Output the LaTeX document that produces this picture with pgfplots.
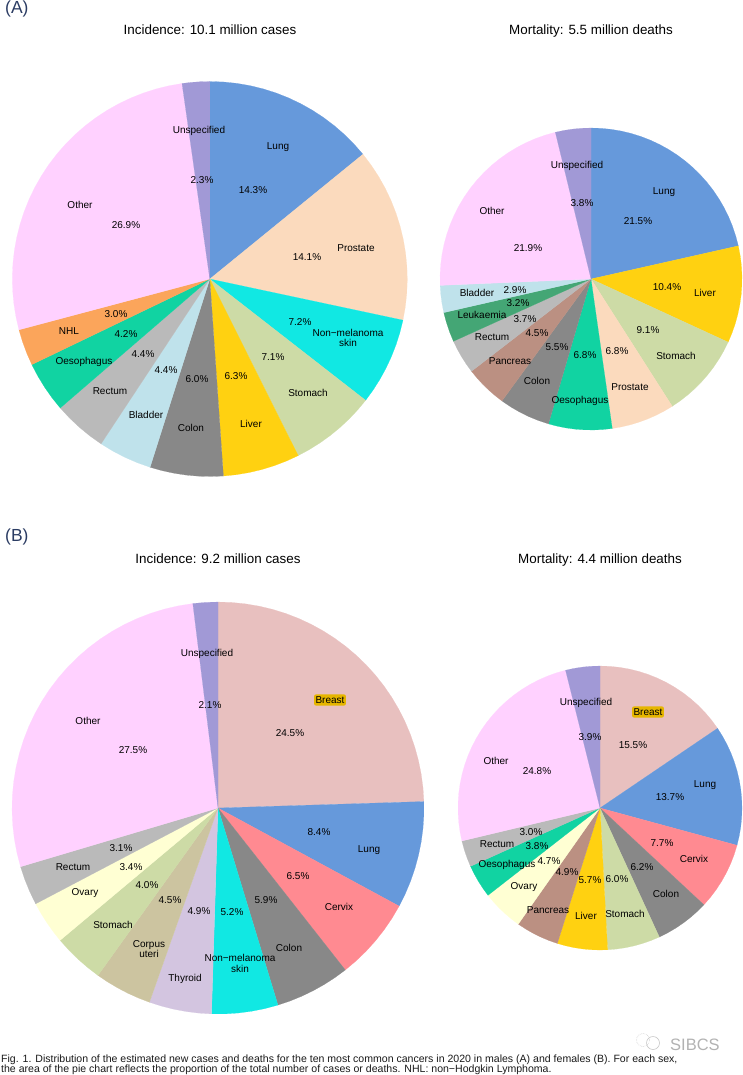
\documentclass[border=0pt]{standalone}
\usepackage{fontspec}
\setmainfont{Liberation Sans}
\usepackage{pgfplots}
\pgfplotsset{compat=1.18}
\usepgfplotslibrary{polar}
\definecolor{cLung}{HTML}{6699DB}
\definecolor{cProstate}{HTML}{FBDABD}
\definecolor{cNMSC}{HTML}{11E8E3}
\definecolor{cStomach}{HTML}{CDDBA6}
\definecolor{cLiver}{HTML}{FFD111}
\definecolor{cColon}{HTML}{888888}
\definecolor{cBladder}{HTML}{BFE2EB}
\definecolor{cRectum}{HTML}{BABABA}
\definecolor{cOeso}{HTML}{11D3A2}
\definecolor{cNHL}{HTML}{FBA55B}
\definecolor{cOther}{HTML}{FFD1FF}
\definecolor{cUnspec}{HTML}{A199D6}
\definecolor{cBreast}{HTML}{E8C0BF}
\definecolor{cCervix}{HTML}{FF8A91}
\definecolor{cThyroid}{HTML}{D3C5E0}
\definecolor{cCorpus}{HTML}{CCC4A0}
\definecolor{cOvary}{HTML}{FFFFD3}
\definecolor{cPancreas}{HTML}{BB9082}
\definecolor{cLeuk}{HTML}{44A675}
\definecolor{cHead}{HTML}{2B3C63}
\definecolor{cGold}{HTML}{E6B600}
% one wedge: colour, share in per cent
\newcommand{\slice}[2]{%
  \pgfmathsetmacro\aEnd{\cum+#2*360/\pietotal}%
  \pgfmathtruncatemacro\nstep{ceil((\aEnd-\cum)/4)}%
  \gdef\pts{(0,0)}%
  \foreach \i in {0,...,\nstep}{%
    \pgfmathsetmacro\ang{90-(\cum+(\aEnd-\cum)*\i/\nstep)}%
    \xdef\pts{\pts (\ang,1)}%
  }%
  \edef\tmp{\noexpand\addplot[fill=#1,draw=#1,line width=0.15pt] coordinates {\pts} -- cycle;}\tmp
  \xdef\cum{\aEnd}%
}
\newenvironment{pie}[4]{%
  \def\pietotal{#4}\gdef\cum{0}%
  \begin{polaraxis}[hide axis,scale only axis,width=#3*2pt,height=#3*2pt,
    ymin=0,ymax=1,xmin=0,xmax=360,clip=false,anchor=center,at={(#1pt,-#2pt)}]%
}{\end{polaraxis}}
% x, visual centre y, text: placed on its baseline so that descenders do not shift it
\newcommand{\lab}[3]{\node[font=\fontsize{10}{11}\selectfont,inner sep=0pt,anchor=base,text=black] at (#1pt,-#2pt-3.6pt) {#3};}
\newcommand{\ttl}[3]{\node[font=\fontsize{13.4}{15}\selectfont,inner sep=0pt,anchor=base] at (#1pt,-#2pt-4.8pt) {#3};}
\newcommand{\brst}[2]{\node[font=\fontsize{10}{11}\selectfont,text height=7.2pt,text depth=0pt,inner xsep=1.5pt,inner ysep=2pt,fill=cGold,rounded corners=2pt] at (#1pt,-#2pt) {Breast};}
\begin{document}
\begin{tikzpicture}
\path[use as bounding box] (0,0) rectangle (742pt,-1075pt);
\begin{pie}{209.8}{279}{197.5}{100.2}
\slice{cLung}{14.15}\slice{cProstate}{14.25}\slice{cNMSC}{7.2}\slice{cStomach}{7.1}
\slice{cLiver}{6.3}\slice{cColon}{6.0}\slice{cBladder}{4.4}\slice{cRectum}{4.4}
\slice{cOeso}{4.2}\slice{cNHL}{3.0}\slice{cOther}{26.95}\slice{cUnspec}{2.25}
\end{pie}
\begin{pie}{591}{279}{151}{100.1}
\slice{cLung}{21.5}\slice{cLiver}{10.4}\slice{cStomach}{9.1}\slice{cProstate}{6.8}
\slice{cOeso}{6.8}\slice{cColon}{5.5}\slice{cPancreas}{4.5}\slice{cRectum}{3.7}
\slice{cLeuk}{3.2}\slice{cBladder}{2.9}\slice{cOther}{21.9}\slice{cUnspec}{3.8}
\end{pie}
\begin{pie}{218}{808}{206}{100.0}
\slice{cBreast}{24.5}\slice{cLung}{8.4}\slice{cCervix}{6.5}\slice{cColon}{5.9}
\slice{cNMSC}{5.2}\slice{cThyroid}{4.9}\slice{cCorpus}{4.5}\slice{cStomach}{4.0}
\slice{cOvary}{3.4}\slice{cRectum}{3.1}\slice{cOther}{27.65}\slice{cUnspec}{1.95}
\end{pie}
\begin{pie}{600}{808}{142}{99.9}
\slice{cBreast}{15.5}\slice{cLung}{13.7}\slice{cCervix}{7.7}\slice{cColon}{6.2}
\slice{cStomach}{6.0}\slice{cLiver}{5.7}\slice{cPancreas}{4.9}\slice{cOvary}{4.7}
\slice{cOeso}{3.8}\slice{cRectum}{3.0}\slice{cOther}{24.8}\slice{cUnspec}{3.9}
\end{pie}
% headings
\node[font=\fontsize{17.5}{20}\selectfont,text=cHead,inner sep=0pt,anchor=west] at (5pt,-8.5pt) {(A)};
\node[font=\fontsize{17.5}{20}\selectfont,text=cHead,inner sep=0pt,anchor=west] at (5pt,-537pt) {(B)};
\ttl{210}{30}{Incidence: 10.1 million cases}
\ttl{591}{30}{Mortality: 5.5 million deaths}
\ttl{218}{559}{Incidence: 9.2 million cases}
\ttl{600}{559}{Mortality: 4.4 million deaths}
% A, incidence
\lab{199}{130}{Unspecified}\lab{202}{179.5}{2.3\%}\lab{278}{146}{Lung}\lab{253}{190}{14.3\%}
\lab{80}{205}{Other}\lab{126}{225}{26.9\%}\lab{356}{248}{Prostate}\lab{307}{257}{14.1\%}
\lab{69}{331}{NHL}\lab{116}{314}{3.0\%}\lab{126}{334}{4.2\%}\lab{84}{361}{Oesophagus}
\lab{143}{354}{4.4\%}\lab{166}{369.5}{4.4\%}\lab{110}{391}{Rectum}\lab{146}{414.5}{Bladder}
\lab{197}{378.5}{6.0\%}\lab{191}{428}{Colon}\lab{236}{376}{6.3\%}\lab{251}{424}{Liver}
\lab{273}{357}{7.1\%}\lab{308}{393}{Stomach}\lab{300}{321.5}{7.2\%}
\lab{348}{332.7}{Non−melanoma}\lab{348}{342.7}{skin}
% A, mortality
\lab{577}{165}{Unspecified}\lab{582}{203}{3.8\%}\lab{664}{191}{Lung}\lab{638}{221}{21.5\%}
\lab{492}{211}{Other}\lab{528}{248}{21.9\%}\lab{705}{293}{Liver}\lab{667}{287}{10.4\%}
\lab{676}{356}{Stomach}\lab{648}{330}{9.1\%}\lab{630}{387}{Prostate}\lab{617}{351}{6.8\%}
\lab{580}{400}{Oesophagus}\lab{585}{355}{6.8\%}\lab{537}{381}{Colon}\lab{557}{347}{5.5\%}
\lab{510}{361}{Pancreas}\lab{537}{333}{4.5\%}\lab{492}{337}{Rectum}\lab{525}{319}{3.7\%}
\lab{482}{315}{Leukaemia}\lab{518}{303}{3.2\%}\lab{477}{293}{Bladder}\lab{515}{290}{2.9\%}
% B, incidence
\lab{207}{653}{Unspecified}\lab{210}{705}{2.1\%}\lab{290}{733}{24.5\%}
\lab{88}{721}{Other}\lab{133}{750}{27.5\%}
\brst{330}{700}
\lab{319}{832}{8.4\%}\lab{369}{849}{Lung}\lab{298}{876}{6.5\%}\lab{339}{907}{Cervix}
\lab{266}{900}{5.9\%}\lab{289}{948}{Colon}\lab{232}{912}{5.2\%}
\lab{240}{957.7}{Non−melanoma}\lab{240}{968.7}{skin}
\lab{199}{911}{4.9\%}\lab{185}{978}{Thyroid}\lab{170}{900}{4.5\%}
\lab{149}{943.7}{Corpus}\lab{149}{953.7}{uteri}
\lab{147}{885}{4.0\%}\lab{113}{925}{Stomach}\lab{131}{867}{3.4\%}\lab{85}{892}{Ovary}
\lab{121}{848}{3.1\%}\lab{73}{867}{Rectum}
% B, mortality
\lab{586}{702}{Unspecified}\lab{590}{737}{3.9\%}\lab{633}{745}{15.5\%}
\brst{648}{712}
\lab{496}{761}{Other}\lab{537}{771}{24.8\%}\lab{705}{784}{Lung}\lab{670}{797}{13.7\%}
\lab{662}{843}{7.7\%}\lab{694}{859}{Cervix}\lab{642}{867}{6.2\%}\lab{666}{894}{Colon}
\lab{617}{879}{6.0\%}\lab{625}{914}{Stomach}\lab{590}{880}{5.7\%}\lab{586}{916}{Liver}
\lab{567}{872}{4.9\%}\lab{548}{910}{Pancreas}\lab{549}{861}{4.7\%}\lab{524}{886}{Ovary}
\lab{537}{846}{3.8\%}\lab{507}{864}{Oesophagus}\lab{531}{832}{3.0\%}\lab{497}{844}{Rectum}
% caption and mark
\node[font=\fontsize{10.55}{11}\selectfont,inner sep=0pt,anchor=base west,text=black!90] at (1pt,-1062.7pt) {Fig. 1. Distribution of the estimated new cases and deaths for the ten most common cancers in 2020 in males (A) and females (B). For each sex,};
\node[font=\fontsize{10.55}{11}\selectfont,inner sep=0pt,anchor=base west,text=black!90] at (1pt,-1072.7pt) {the area of the pie chart reflects the proportion of the total number of cases or deaths. NHL: non−Hodgkin Lymphoma.};
\node[font=\fontsize{16.5}{18}\selectfont,inner sep=0pt,anchor=west,text=black!30] at (670pt,-1045pt) {SIBCS};
\draw[black!18,line width=0.6pt,densely dotted] (643pt,-1040pt) circle (6.5pt);
\draw[black!22,line width=0.6pt] (653pt,-1043pt) circle (6.5pt);
\end{tikzpicture}
\end{document}
